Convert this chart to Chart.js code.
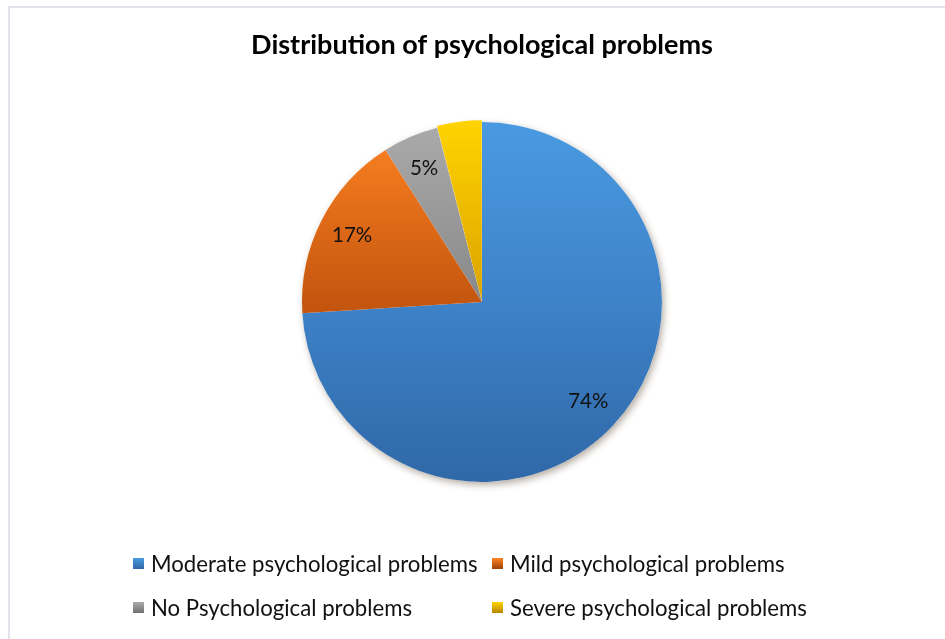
<!DOCTYPE html>
<html>
<head>
<meta charset="utf-8">
<title>Distribution of psychological problems</title>
<script src="https://cdn.jsdelivr.net/npm/chart.js@4/dist/chart.umd.min.js"></script>
<style>
    html, body { margin: 0; padding: 0; background: #fff; overflow: hidden; }
    .frame { position: absolute; left: 8px; top: 6px; width: 1000px; height: 1000px;
             border-left: 2px solid #e1e5eb; border-top: 2px solid #e1e5eb; }
    .wrap { position: absolute; left: 0; top: 0; width: 945px; height: 639px; }
    .legend { position: absolute; left: 133px; top: 541px; display: grid;
              grid-template-columns: 359px auto; grid-auto-rows: 44px;
              font-family: Lato, 'Open Sans', sans-serif; font-size: 22.2px; color: #111; }
    .legend-item { display: flex; align-items: center; white-space: nowrap; }
    .legend-box { width: 11px; height: 11px; margin-right: 7px; flex: none; }
</style>
</head>
<body>
<div class="frame"></div>
<div class="wrap"><canvas id="pie"></canvas></div>
<div class="legend" id="legend"></div>
<script>
/* ── Data ─────────────────────────────────────────────── */
const categories = [
    'Moderate psychological problems',
    'Mild psychological problems',
    'No Psychological problems',
    'Severe psychological problems'
];
const shares = [74, 17, 5, 4];
const labelled = [true, true, true, false];

/* ── Palette (top / middle / bottom of the pie) ───────── */
const palette = [
    ['#4a9ae1', '#3e82c8', '#2f68a7'],
    ['#ff8423', '#c5560f', '#9c4108'],
    ['#ababab', '#888888', '#707070'],
    ['#ffd400', '#dba300', '#b88400']
];

function sliceFill(ctx) {
    const area = ctx.chart.chartArea;
    const stops = palette[ctx.dataIndex];
    if (!area) return stops[1];
    const g = ctx.chart.ctx.createLinearGradient(0, area.top, 0, area.bottom);
    g.addColorStop(0, stops[0]);
    g.addColorStop(0.5, stops[1]);
    g.addColorStop(1, stops[2]);
    return g;
}

/* ── Soft drop shadow under the whole pie ─────────────── */
const pieShadow = {
    id: 'pieShadow',
    beforeDatasetsDraw(chart) {
        const arc = chart.getDatasetMeta(0).data[0];
        if (!arc) return;
        const { ctx } = chart;
        ctx.save();
        ctx.shadowColor = 'rgba(90, 70, 50, 0.45)';
        ctx.shadowBlur = 7;
        ctx.shadowOffsetX = 2;
        ctx.shadowOffsetY = 3;
        ctx.fillStyle = '#fff';
        ctx.beginPath();
        ctx.arc(arc.x, arc.y, arc.outerRadius, 0, Math.PI * 2);
        ctx.fill();
        ctx.restore();
    }
};

/* ── Percentage labels inside the slices ──────────────── */
const sliceLabels = {
    id: 'sliceLabels',
    afterDatasetsDraw(chart) {
        const { ctx } = chart;
        ctx.save();
        ctx.font = '20.5px Lato, "Open Sans", sans-serif';
        ctx.fillStyle = '#111';
        ctx.textAlign = 'center';
        ctx.textBaseline = 'middle';
        chart.getDatasetMeta(0).data.forEach((arc, i) => {
            if (!labelled[i]) return;
            const p = arc.getProps(['x', 'y', 'startAngle', 'endAngle', 'outerRadius'], true);
            const mid = (p.startAngle + p.endAngle) / 2;
            const r = p.outerRadius * 0.81;
            ctx.fillText(shares[i] + '%', p.x + Math.cos(mid) * r, p.y + Math.sin(mid) * r);
        });
        ctx.restore();
    }
};

/* ── Chart ────────────────────────────────────────────── */
new Chart(document.getElementById('pie'), {
    type: 'pie',
    data: {
        labels: categories,
        datasets: [{
            data: shares,
            backgroundColor: sliceFill,
            borderWidth: 0,
            offset: ctx => (ctx.dataIndex === 3 ? 4 : 0)
        }]
    },
    options: {
        responsive: true,
        maintainAspectRatio: false,
        animation: false,
        layout: { padding: { left: 19, right: 0, top: 0, bottom: 155 } },
        plugins: {
            legend: { display: false },
            tooltip: { enabled: false },
            title: {
                display: true,
                text: 'Distribution of psychological problems',
                color: '#000',
                font: { family: 'Lato', size: 27, weight: 'bold' },
                padding: { top: 29, bottom: 58.6 }
            }
        }
    },
    plugins: [pieShadow, sliceLabels]
});

/* ── Legend ───────────────────────────────────────────── */
const legend = document.getElementById('legend');
categories.forEach((name, i) => {
    const [top, mid, bottom] = palette[i];
    const item = document.createElement('div');
    item.className = 'legend-item';
    item.innerHTML = `
      <span class="legend-box" style="background:linear-gradient(${top}, ${bottom})"></span>
      <span>${name}</span>
    `;
    legend.appendChild(item);
});
</script>
</body>
</html>
